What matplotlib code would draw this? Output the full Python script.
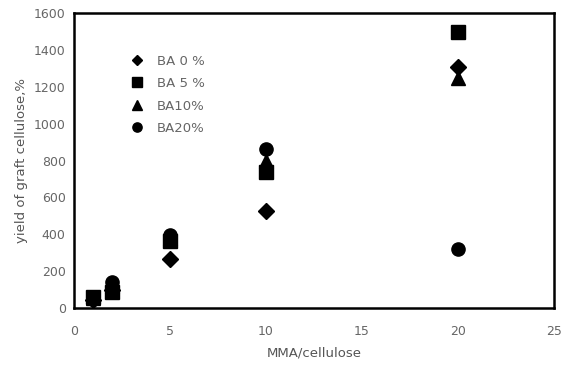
import matplotlib
matplotlib.use("Agg")
import matplotlib.pyplot as plt

# MMA/cellulose ratios
ratio = [1, 2, 5, 10, 20]

# yield of graft cellulose (%) for each BA content
ba0 = [45, 100, 266, 526, 1310]
ba5 = [60, 87, 363, 737, 1500]
ba10 = [55, 120, 380, 800, 1250]
ba20 = [50, 141, 396, 862, 320]

labels = ["BA 0 %", "BA 5 %", "BA10%", "BA20%"]
markers = ["D", "s", "^", "o"]
sizes = [8, 9.5, 10, 9.5]

plt.rcParams['font.family'] = ['DejaVu Sans']

fig = plt.figure(figsize=(5.61, 3.65), dpi=100)
ax = fig.add_axes([0.132, 0.156, 0.855, 0.808])

series = [ba0, ba5, ba10, ba20]
for ys, lab, m, s in zip(series, labels, markers, sizes):
    ax.plot(ratio, ys, linestyle="none", marker=m, markersize=s,
            color="black", label=lab)

ax.set_xlim(0, 25)
ax.set_ylim(0, 1600)
ax.set_xticks([0, 5, 10, 15, 20, 25])
ax.set_yticks(range(0, 1601, 200))
ax.tick_params(length=0, labelsize=9, labelcolor="#666666", pad=6)
ax.tick_params(axis="x", pad=12)

for sp in ax.spines.values():
    sp.set_linewidth(1.8)
    sp.set_color("black")

ax.set_xlabel("MMA/cellulose", fontsize=9.5, color="#555555", labelpad=6)
ax.set_ylabel("yield of graft cellulose,%", fontsize=9.5, color="#555555", labelpad=4)

ax.legend(loc="upper left", bbox_to_anchor=(0.09, 0.9), frameon=False,
          fontsize=9.5, labelcolor="#666666", handletextpad=0.9,
          labelspacing=0.72, handlelength=1.2, markerscale=0.7)

fig.savefig("out.png", dpi=100)
